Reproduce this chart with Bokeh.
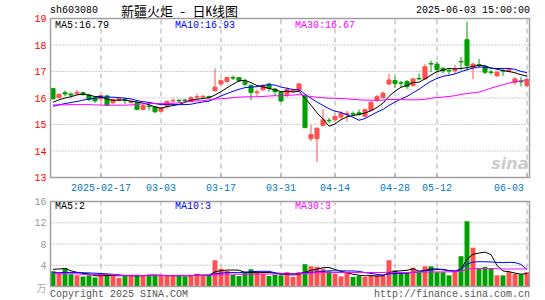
import numpy as np
import pandas as pd
from bokeh.plotting import figure
from bokeh.models import Range1d, ColumnDataSource
from bokeh.core.properties import value
from bokeh.layouts import column
from bokeh.embed import file_html
from bokeh.resources import INLINE

code = "sh603080"
title = "新疆火炬 - 日K线图"
stamp = "2025-06-03 15:00:00"

open_ = [16.36, 16.02, 16.20, 16.15, 16.16, 16.20, 16.11, 16.01, 15.97, 16.08,
         15.82, 15.92, 15.93, 15.83, 15.82, 15.57, 15.70, 15.67, 15.50, 15.69,
         15.89, 15.91, 15.92, 15.88, 16.03, 16.04, 16.05, 16.28, 16.53, 16.63,
         16.77, 16.77, 16.63, 16.47, 16.20, 16.31, 16.53, 16.34, 16.22, 16.14,
         16.25, 16.28, 16.09, 14.46, 14.46, 14.96, 15.16, 15.18, 15.28, 15.37,
         15.41, 15.44, 15.31, 15.53, 15.90, 16.03, 16.53, 16.66, 16.58, 16.62,
         16.47, 16.74, 16.72, 17.30, 17.28, 17.12, 17.04, 17.03, 17.38, 18.20,
         17.16, 17.26, 17.18, 16.98, 16.84, 17.04, 17.01, 16.59, 16.63, 16.47]
high = [16.38, 16.16, 16.28, 16.20, 16.31, 16.24, 16.16, 16.05, 16.12, 16.11,
        15.98, 16.00, 16.02, 15.90, 15.85, 15.77, 15.76, 15.69, 15.65, 15.90,
        15.99, 15.96, 15.97, 16.07, 16.16, 16.10, 16.09, 17.11, 16.70, 16.79,
        16.85, 16.79, 16.73, 16.51, 16.32, 16.51, 16.55, 16.38, 16.26, 16.41,
        16.34, 16.57, 16.11, 14.99, 14.88, 15.59, 15.25, 15.40, 15.50, 15.52,
        15.49, 15.56, 15.59, 15.87, 16.12, 16.24, 16.91, 16.81, 16.64, 16.68,
        16.75, 16.92, 17.28, 17.41, 17.38, 17.15, 17.13, 17.25, 17.55, 18.88,
        17.34, 17.47, 17.24, 17.06, 17.02, 17.12, 17.12, 16.79, 16.79, 16.76]
low = [15.94, 15.99, 16.06, 16.02, 16.11, 16.08, 15.89, 15.82, 15.87, 15.69,
       15.77, 15.87, 15.77, 15.79, 15.53, 15.53, 15.53, 15.43, 15.48, 15.59,
       15.82, 15.83, 15.84, 15.85, 15.95, 16.00, 15.97, 16.24, 16.48, 16.57,
       16.68, 16.61, 16.44, 15.92, 16.08, 16.26, 16.24, 16.08, 15.85, 16.02,
       16.21, 16.26, 14.88, 14.37, 13.58, 14.93, 15.06, 15.13, 15.20, 15.10,
       15.33, 15.33, 15.28, 15.50, 15.86, 15.95, 16.48, 16.38, 16.40, 16.35,
       16.44, 16.68, 16.68, 16.98, 16.95, 16.92, 16.88, 16.92, 17.03, 17.03,
       16.72, 17.12, 16.90, 16.88, 16.79, 16.84, 16.97, 16.50, 16.44, 16.42]
close = [15.97, 16.14, 16.15, 16.11, 16.21, 16.13, 15.94, 15.89, 16.09, 15.72,
         15.93, 15.97, 15.91, 15.87, 15.57, 15.71, 15.68, 15.48, 15.63, 15.87,
         15.91, 15.89, 15.90, 16.01, 16.05, 16.07, 16.02, 16.41, 16.65, 16.77,
         16.75, 16.65, 16.52, 16.21, 16.23, 16.48, 16.37, 16.24, 15.89, 16.32,
         16.30, 16.53, 14.88, 14.62, 14.86, 15.18, 15.14, 15.30, 15.42, 15.42,
         15.39, 15.38, 15.56, 15.84, 16.05, 16.18, 16.68, 16.55, 16.56, 16.43,
         16.72, 16.72, 17.18, 17.28, 17.07, 17.03, 17.02, 17.09, 17.36, 17.22,
         17.28, 17.24, 16.97, 16.96, 16.97, 17.02, 17.08, 16.72, 16.61, 16.69]
volume = [2.86, 2.6, 3.5, 2.3, 2.1, 1.9, 2.1, 1.7, 2.35, 2.35,
          2.0, 1.6, 2.15, 2.15, 2.2, 2.1, 2.15, 2.1, 2.0, 2.0,
          2.0, 2.15, 1.9, 2.15, 2.4, 2.1, 2.15, 4.95, 3.35, 2.9,
          2.15, 2.0, 2.8, 3.25, 2.75, 2.4, 2.0, 2.2, 2.1, 2.7,
          1.8, 2.7, 4.2, 3.8, 3.7, 3.35, 2.85, 2.4, 1.9, 2.55,
          1.8, 2.0, 1.8, 2.1, 2.1, 2.1, 4.95, 3.05, 2.6, 2.55,
          3.55, 2.7, 3.8, 3.8, 2.7, 2.7, 2.1, 2.9, 5.7, 12.3,
          7.3, 3.35, 3.7, 3.35, 2.1, 2.1, 2.7, 2.4, 2.3, 2.7]

# moving-average values before enough in-window days exist
ma5_head = [15.84, 15.93, 16.00, 16.05]
ma10_head = [15.69, 15.74, 15.79, 15.83, 15.87, 15.92, 15.96, 15.99, 16.02]
ma30_head = [15.74, 15.74, 15.74, 15.75, 15.75, 15.75, 15.75, 15.74, 15.73, 15.73,
             15.73, 15.73, 15.73, 15.74, 15.76, 15.78, 15.79, 15.79, 15.79, 15.79,
             15.80, 15.82, 15.85, 15.87, 15.89, 15.90, 15.93, 15.96, 15.97]
vma5_head = [3.23, 3.3, 3.4, 2.95]
vma10_head = [2.6, 2.6, 2.65, 2.65, 2.6, 2.6, 2.55, 2.5, 2.45]
vma30_head = [2.4, 2.4, 2.4, 2.4, 2.4, 2.25, 2.25, 2.25, 2.25, 2.25, 2.25,
              2.1, 2.1, 2.1, 2.1, 2.05, 2.05, 2.05, 2.05, 2.05, 2.05, 2.05, 2.05,
              2.1, 2.1, 2.1, 2.15, 2.2, 2.25]

price_ma_text = ["MA5:16.79", "MA10:16.93", "MA30:16.67"]
vol_ma_text = ["MA5:2", "MA10:3", "MA30:3"]
ma_colors = ["#000000", "#0000ff", "#ff00ff"]

tick_idx = [8, 18, 28, 38, 47, 57, 64, 79]
tick_labels = ["2025-02-17", "03-03", "03-17", "03-31", "04-14", "04-28", "05-12", "06-03"]
price_ticks = [13, 14, 15, 16, 17, 18, 19]
vol_ticks = [4, 8, 12, 16]
vol_unit = "万"

RED = "#ff5050"
GREEN = "#00a000"
FRAME = "#a0a0a0"
MONO = "Liberation Mono"
CJK = "Noto Sans Mono CJK SC, Noto Sans CJK SC"

# ---- layout (pixels of the 545x300 canvas) ----
W, H1, H2 = 545, 196, 104
X0, PX = 52.5, 6.0                 # page x of first day, px per day
P_TOP, P_BOT = 18.0, 177.0         # price panel frame (page y)
V_TOP, V_ZERO = 201.0, 286.0       # volume panel frame (page y)
F_LEFT, F_RIGHT = 50.0, 529.0      # panel frame (page x)

p_lo, p_hi = price_ticks[0], price_ticks[-1]
v_hi = vol_ticks[-1]
k1 = (P_BOT - P_TOP) / (p_hi - p_lo)
k2 = (V_ZERO - V_TOP) / v_hi


def px(xp):
    return (xp - X0) / PX


def py1(yp):
    return p_hi - (yp - P_TOP) / k1


def py2(yp):
    return v_hi - (yp - V_TOP) / k2


def moving(values, n, head):
    s = pd.Series(values, dtype=float).rolling(n).mean().to_numpy()
    s[: n - 1] = head
    return s


n = len(close)
x = np.arange(n)
o = np.array(open_)
c = np.array(close)
colors = [RED if c[i] >= o[i] else GREEN for i in range(n)]
src = ColumnDataSource(dict(
    x=x, high=high, low=low, top=np.maximum(o, c), bottom=np.minimum(o, c),
    vol=volume, color=colors))

xr = Range1d(px(0), px(W))
xl, xh = px(F_LEFT), px(F_RIGHT)


def bare(fig):
    fig.axis.visible = False
    fig.grid.visible = False
    fig.outline_line_color = None
    fig.background_fill_color = "white"
    fig.border_fill_color = "white"
    fig.min_border = 0


def txt(fig, xs, ys, texts, color, align="left", size="10px", font=MONO, style="normal"):
    fig.text(x=xs, y=ys, text=texts, text_color=color, text_align=align,
             text_baseline="middle", text_font=value(font),
             text_font_size=value(size), text_font_style=style)


# ---------------- price panel ----------------
p = figure(width=W, height=H1, x_range=xr,
           y_range=Range1d(py1(H1), py1(0)),
           output_backend="svg", toolbar_location=None)
bare(p)

# grid
p.segment(x0=tick_idx, y0=[p_lo] * len(tick_idx), x1=tick_idx, y1=[p_hi] * len(tick_idx),
          line_color="#aaaaaa", line_dash="5 4", line_width=1)
inner = price_ticks[1:-1]
p.segment(x0=[xl] * len(inner), y0=inner, x1=[xh] * len(inner), y1=inner,
          line_color="#999999", line_dash="1 2", line_width=1)
p.segment(x0=tick_idx, y0=[p_lo] * len(tick_idx), x1=tick_idx,
          y1=[p_lo + 4 / k1] * len(tick_idx), line_color=FRAME, line_width=1)

# watermark
txt(p, [px(528)], [py1(163)], ["sina"], "#cccccc", align="right", size="16px",
    font="DejaVu Sans", style="bold italic")

# candles
p.segment(x0="x", y0="low", x1="x", y1="high", source=src, line_color="color", line_width=1)
p.vbar(x="x", width=0.68, top="top", bottom="bottom", source=src,
       fill_color="color", line_color="color", line_width=1)
for head, col, win in [(ma5_head, ma_colors[0], 5), (ma10_head, ma_colors[1], 10),
                       (ma30_head, ma_colors[2], 30)]:
    p.line(x, moving(close, win, head), line_color=col, line_width=1)

# frame
p.quad(left=[xl], right=[xh], bottom=[p_lo], top=[p_hi], fill_color=None,
       line_color=FRAME, line_width=1.5)

# texts
txt(p, [px(46)] * len(price_ticks), price_ticks, [str(t) for t in price_ticks],
    "#ff0000", align="right")
txt(p, tick_idx[:-1], [py1(187)] * (len(tick_idx) - 1), tick_labels[:-1], "#0078c8",
    align="center")
txt(p, [px(523.5)], [py1(187)], [tick_labels[-1]], "#0078c8", align="right")
txt(p, [px(49.5)], [py1(10)], [code], "#000000")
txt(p, [px(120.5)], [py1(10)], [title], "#000000", size="13px", font=CJK)
txt(p, [px(529.5)], [py1(10)], [stamp], "#000000", align="right")
txt(p, [px(54.5), px(174.5), px(294.5)], [py1(24.6)] * 3, price_ma_text, ma_colors)

# ---------------- volume panel ----------------
q = figure(width=W, height=H2, x_range=xr,
           y_range=Range1d(py2(H1 + H2), py2(H1)),
           output_backend="svg", toolbar_location=None)
bare(q)

q.segment(x0=tick_idx, y0=[0] * len(tick_idx), x1=tick_idx, y1=[v_hi] * len(tick_idx),
          line_color="#aaaaaa", line_dash="5 4", line_width=1)
vin = vol_ticks[:-1]
q.segment(x0=[xl] * len(vin), y0=vin, x1=[xh] * len(vin), y1=vin,
          line_color="#999999", line_dash="1 2", line_width=1)

q.vbar(x="x", width=0.82, top="vol", bottom=0, source=src, fill_color="color", line_color=None)
for head, col, win in [(vma5_head, ma_colors[0], 5), (vma10_head, ma_colors[1], 10),
                       (vma30_head, ma_colors[2], 30)]:
    q.line(x, moving(volume, win, head), line_color=col, line_width=1)

q.quad(left=[xl], right=[xh], bottom=[0], top=[v_hi], fill_color=None,
       line_color=FRAME, line_width=1.5)

txt(q, [px(46)] * len(vol_ticks), vol_ticks, [str(t) for t in vol_ticks], "#999999",
    align="right")
txt(q, [px(46)], [py2(287)], [vol_unit], "#aaaaaa", align="right", font="Noto Sans CJK SC")
txt(q, [px(54.5), px(174.5), px(294.5)], [py2(206)] * 3, vol_ma_text, ma_colors)
txt(q, [px(49.5)], [py2(293.5)], ["Copyright 2025 SINA.COM"], "#555555")
txt(q, [px(529.5)], [py2(293.5)], ["http://finance.sina.com.cn"], "#555555", align="right")

layout = column(p, q)
open("out.html", "w").write(file_html(layout, INLINE))
